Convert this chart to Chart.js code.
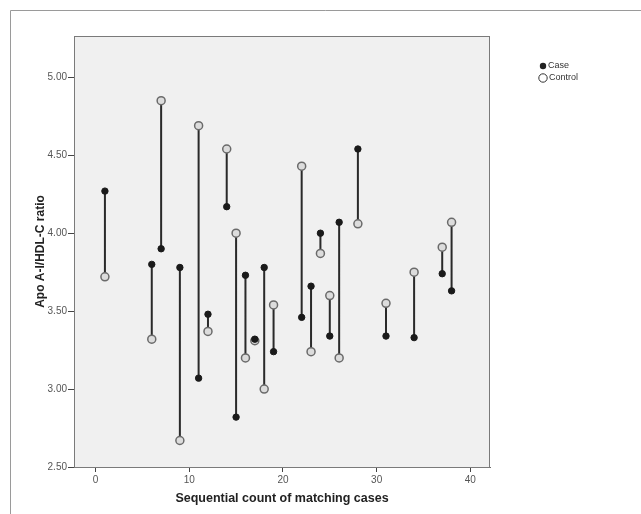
<!DOCTYPE html>
<html>
<head>
<meta charset="utf-8">
<script src="https://cdn.jsdelivr.net/npm/chart.js@4.4.1/dist/chart.umd.min.js"></script>
<style>
  html, body { margin: 0; padding: 0; background: #fff; }
  #wrap { width: 641px; height: 514px; position: relative; }
</style>
</head>
<body>
<div id="wrap"><canvas id="pairChart"></canvas></div>
<script>
// ---- data ----
const pairIds = [1, 6, 7, 9, 11, 12, 14, 15, 16, 17, 18, 19, 22, 23, 24, 25, 26, 28, 31, 34, 37, 38];
const caseRatio = [4.27, 3.80, 3.90, 3.78, 3.07, 3.48, 4.17, 2.82, 3.73, 3.32, 3.78, 3.24, 3.46, 3.66, 4.00, 3.34, 4.07, 4.54, 3.34, 3.33, 3.74, 3.63];
const controlRatio = [3.72, 3.32, 4.85, 2.67, 4.69, 3.37, 4.54, 4.00, 3.20, 3.31, 3.00, 3.54, 4.43, 3.24, 3.87, 3.60, 3.20, 4.06, 3.55, 3.75, 3.91, 4.07];
const xTicks = [0, 10, 20, 30, 40];
const yTicks = [2.5, 3.0, 3.5, 4.0, 4.5, 5.0];
const legendLabels = ['Case', 'Control'];

const FONT = 'Arial, "Liberation Sans", sans-serif';

// case/control points and the vertical link between them (null breaks the line)
const casePts = pairIds.map((id, i) => ({ x: id, y: caseRatio[i] }));
const controlPts = pairIds.map((id, i) => ({ x: id, y: controlRatio[i] }));
const linkPts = [];
pairIds.forEach((id, i) => {
  linkPts.push({ x: id, y: caseRatio[i] }, { x: id, y: controlRatio[i] }, { x: id, y: null });
});

// ---- page frame, plot background and legend ----
const framePlugin = {
  id: 'frame',
  beforeDraw(chart) {
    const { ctx, chartArea: a } = chart;
    ctx.save();
    ctx.strokeStyle = '#9a9a9a';
    ctx.lineWidth = 1;
    ctx.beginPath();
    ctx.moveTo(10.5, 514); ctx.lineTo(10.5, 10.5); ctx.lineTo(641, 10.5);
    ctx.stroke();
    ctx.fillStyle = '#f0f0f0';
    ctx.fillRect(a.left, a.top, a.right - a.left, a.bottom - a.top);
    ctx.restore();
  },
  afterDraw(chart) {
    const { ctx, chartArea: a } = chart;
    ctx.save();
    ctx.strokeStyle = '#7a7a7a';
    ctx.lineWidth = 1;
    ctx.strokeRect(a.left + 0.5, a.top + 0.5, a.right - a.left - 1, a.bottom - a.top);

    // legend
    ctx.font = '9px ' + FONT;
    ctx.textBaseline = 'middle';
    ctx.beginPath();
    ctx.arc(543, 66, 3.2, 0, Math.PI * 2);
    ctx.fillStyle = '#222';
    ctx.fill();
    ctx.fillStyle = '#333';
    ctx.fillText(legendLabels[0], 548, 66);
    ctx.beginPath();
    ctx.arc(543, 78, 4.2, 0, Math.PI * 2);
    ctx.strokeStyle = '#333';
    ctx.stroke();
    ctx.fillText(legendLabels[1], 549, 78);
    ctx.restore();
  }
};

new Chart(document.getElementById('pairChart'), {
  type: 'scatter',
  data: {
    datasets: [
      {
        label: 'Case',
        data: casePts,
        pointRadius: 3.2,
        pointBackgroundColor: '#1a1a1a',
        pointBorderColor: '#1a1a1a',
        pointBorderWidth: 1,
      },
      {
        label: 'Control',
        data: controlPts,
        pointRadius: 4,
        pointBackgroundColor: '#dcdcdc',
        pointBorderColor: '#6a6a6a',
        pointBorderWidth: 1.5,
      },
      {
        label: 'link',
        data: linkPts,
        showLine: true,
        spanGaps: false,
        borderColor: '#2a2a2a',
        borderWidth: 2,
        pointRadius: 0,
      }
    ]
  },
  options: {
    responsive: true,
    maintainAspectRatio: false,
    animation: false,
    layout: { padding: { left: 0, top: 36, right: 151, bottom: 0 } },
    scales: {
      x: {
        type: 'linear',
        min: -2.3,
        max: 42.1,
        afterBuildTicks: s => { s.ticks = xTicks.map(v => ({ value: v })); },
        afterFit: s => { s.height = 47; },
        grid: { drawOnChartArea: false, drawTicks: true, tickLength: 5, color: '#444' },
        border: { color: '#6a6a6a' },
        ticks: { padding: 2, color: '#555', font: { size: 10, family: FONT }, maxRotation: 0 },
        title: {
          display: true,
          text: 'Sequential count of matching cases',
          color: '#222',
          font: { size: 12.5, weight: 'bold', family: FONT },
          padding: { top: 0, bottom: 8 }
        }
      },
      y: {
        min: 2.5,
        max: 5.265,
        afterBuildTicks: s => { s.ticks = yTicks.map(v => ({ value: v })); },
        afterFit: s => { s.width = 74; },
        grid: { drawOnChartArea: false, drawTicks: true, tickLength: 6, color: '#444' },
        border: { color: '#6a6a6a' },
        ticks: {
          padding: 1,
          color: '#555',
          font: { size: 10, family: FONT },
          callback: v => Number(v).toFixed(2)
        },
        title: {
          display: true,
          text: 'Apo A-I/HDL-C ratio',
          color: '#222',
          font: { size: 12, weight: 'bold', family: FONT },
          padding: { top: 33, bottom: 0 }
        }
      }
    },
    plugins: {
      legend: { display: false },
      tooltip: { enabled: false }
    }
  },
  plugins: [framePlugin]
});
</script>
</body>
</html>
